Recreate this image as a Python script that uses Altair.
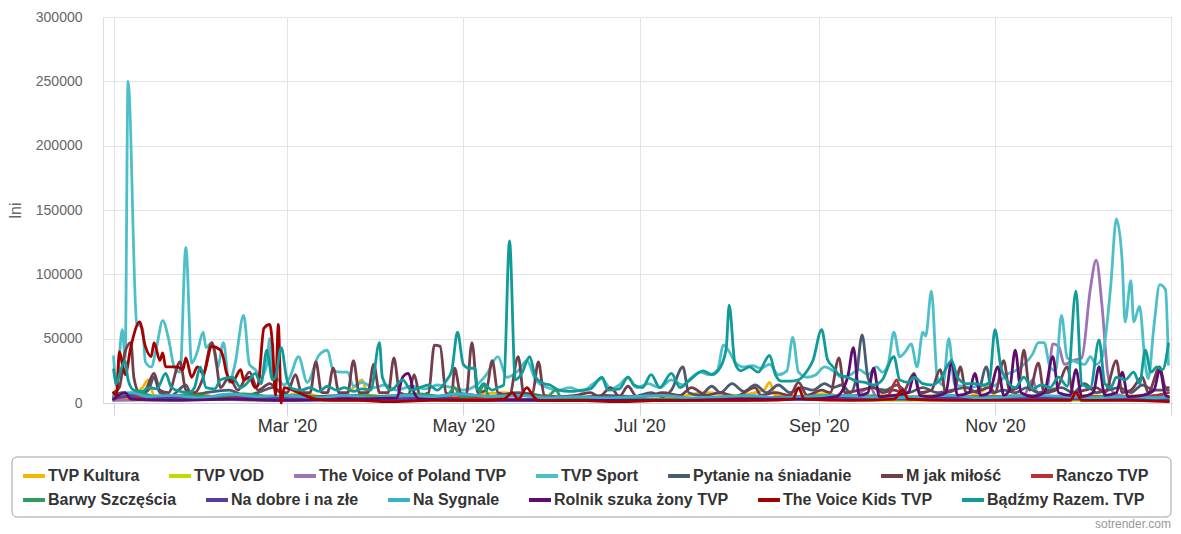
import altair as alt
import pandas as pd

SERIES = ["TVP Kultura", "TVP VOD", "The Voice of Poland TVP", "TVP Sport",
          "Pytanie na śniadanie", "M jak miłość", "Ranczo TVP",
          "Barwy Szczęścia", "Na dobre i na złe", "Na Sygnale",
          "Rolnik szuka żony TVP", "The Voice Kids TVP", "Bądźmy Razem. TVP"]
COLORS = ["#f5b400", "#c3d900", "#9e72b6", "#4dbfc8", "#4a5b70", "#733e4a",
          "#b8302f", "#2e9c5a", "#5b3aa0", "#3ab0d0", "#5e0c6e", "#a50000",
          "#109a98"]

# (day of 2020, interactions in thousands)
KULTURA = [(0,4),(5,6),(10,12),(12,18),(14,6),(20,5),(28,8),(35,5),(42,7),(50,6),(58,5),(65,8),(72,5),(80,7),(84,14),(86,18),(88,6),(95,5),(105,6),(115,4),(125,6),(135,8),(145,5),(155,4),(165,5),(175,4),(185,6),(195,5),(205,8),(215,6),(225,10),(227,16),(229,6),(235,5),(245,7),(255,5),(265,6),(275,5),(285,6),(295,5),(301,10),(303,15),(305,5),(315,6),(325,5),(335,6),(345,5),(355,6),(365,4)]
VOD = [(0,2),(30,3),(60,2),(90,3),(120,2),(150,3),(180,2),(210,3),(240,4),(248,8),(250,3),(270,2),(300,3),(330,2),(365,3)]
VOICE_POLAND = [(0,2),(30,3),(60,2),(90,2),(120,3),(150,2),(180,2),(210,3),(240,3),(255,4),(262,12),(264,4),(270,3),(290,4),(305,5),(315,6),(318,18),(320,6),(323,10),(325,46),(327,44),(329,30),(332,33),(335,35),(338,89),(340,111),(342,76),(344,23),(346,8),(350,5),(355,4),(360,6),(365,4)]
SPORT = [(0,36),(1,13),(3,57),(4,35),(5,250),(8,62),(10,58),(11,32),(13,28),(15,45),(17,64),(19,50),(21,28),(23,24),(25,121),(27,31),(29,40),(31,55),(32,43),(34,47),(36,28),(38,47),(40,16),(42,30),(45,68),(47,30),(49,26),(51,20),(53,30),(54,50),(55,22),(57,18),(59,14),(61,20),(64,36),(67,16),(71,37),(74,41),(76,25),(79,24),(81,24),(83,13),(86,16),(90,12),(94,14),(98,10),(103,13),(108,11),(112,14),(117,12),(121,10),(125,13),(129,22),(133,36),(136,20),(140,25),(143,33),(146,18),(150,12),(154,10),(158,12),(162,9),(166,15),(169,19),(172,11),(175,14),(178,20),(181,12),(185,15),(189,12),(193,18),(197,14),(200,20),(203,24),(206,22),(209,26),(211,45),(213,40),(215,32),(218,28),(221,29),(224,27),(227,30),(230,22),(233,25),(235,51),(237,24),(240,20),(243,22),(246,28),(249,25),(252,20),(255,22),(258,26),(261,22),(264,28),(266,24),(268,30),(270,55),(272,36),(274,40),(276,46),(278,28),(280,55),(281,52),(283,87),(285,20),(287,14),(289,50),(291,14),(294,13),(297,12),(300,14),(303,12),(306,15),(309,22),(312,25),(315,30),(318,38),(320,47),(322,47),(324,28),(326,25),(328,68),(330,35),(333,32),(336,30),(338,36),(340,30),(342,35),(345,90),(347,143),(349,110),(350,63),(352,95),(353,63),(355,75),(357,30),(358,19),(360,60),(362,92),(364,88),(365,30)]
PYTANIE = [(0,5),(3,8),(8,6),(12,10),(14,20),(16,8),(20,6),(25,14),(27,6),(32,8),(40,10),(45,6),(50,8),(55,12),(60,6),(70,5),(80,6),(90,5),(100,6),(110,5),(120,7),(130,5),(140,8),(150,5),(160,4),(170,6),(180,5),(186,8),(190,5),(193,10),(197,28),(199,8),(203,6),(207,13),(210,8),(214,15),(218,9),(222,14),(226,8),(230,14),(234,8),(238,12),(242,10),(246,15),(249,12),(252,14),(255,8),(257,20),(259,53),(261,20),(263,12),(267,10),(271,14),(275,8),(280,12),(285,8),(290,10),(295,12),(299,8),(302,28),(304,8),(308,10),(312,8),(316,12),(320,8),(324,10),(328,12),(332,8),(336,15),(340,8),(344,10),(348,12),(352,8),(356,14),(360,10),(365,10)]
M_JAK = [(0,8),(2,12),(4,40),(6,47),(7,20),(9,8),(11,10),(14,23),(16,10),(19,8),(23,32),(25,10),(28,8),(31,20),(34,47),(35,40),(37,12),(40,20),(43,10),(47,24),(50,10),(54,15),(58,8),(60,8),(63,22),(65,8),(68,8),(70,32),(72,8),(74,8),(76,27),(78,8),(81,8),(83,33),(85,8),(88,8),(90,30),(92,8),(95,8),(97,35),(99,8),(102,6),(104,22),(106,6),(109,8),(111,45),(113,44),(115,8),(117,6),(118,27),(120,8),(122,6),(124,47),(126,8),(129,10),(131,33),(133,8),(137,6),(140,36),(142,6),(145,8),(147,32),(149,6),(153,5),(160,6),(165,8),(168,5),(172,12),(175,5),(178,13),(181,5),(186,6),(190,8),(196,6),(200,12),(205,6),(210,8),(215,5),(222,12),(224,6),(229,8),(234,6),(237,16),(240,6),(245,10),(248,8),(251,35),(253,8),(258,10),(263,12),(266,8),(270,10),(273,8),(277,23),(279,8),(283,10),(286,26),(288,8),(291,10),(293,28),(295,8),(300,10),(303,12),(305,8),(308,33),(310,10),(313,12),(315,41),(317,10),(320,31),(322,8),(326,10),(330,28),(332,8),(336,10),(340,12),(343,8),(347,33),(349,8),(352,10),(356,20),(358,8),(362,28),(364,12),(365,12)]
RANCZO = [(0,4),(10,5),(20,3),(35,4),(50,5),(60,3),(80,4),(100,3),(120,4),(140,3),(160,2),(180,3),(200,3),(220,4),(240,5),(250,3),(260,4),(268,6),(271,18),(273,5),(280,4),(300,5),(320,4),(340,5),(355,4),(365,8)]
BARWY = [(0,6),(8,8),(15,5),(25,6),(35,5),(45,7),(55,5),(65,6),(75,4),(85,6),(95,5),(105,7),(115,5),(118,12),(120,5),(126,6),(128,14),(130,5),(140,6),(150,5),(153,10),(155,4),(170,3),(190,3),(210,3),(230,4),(250,6),(270,5),(290,4),(310,5),(330,4),(350,5),(365,4)]
NA_DOBRE = [(0,3),(5,6),(8,3),(20,4),(35,3),(50,4),(65,3),(80,4),(95,3),(110,4),(125,2),(140,3),(155,2),(170,2),(185,2),(200,2),(215,2),(230,3),(245,3),(260,4),(275,3),(290,4),(305,3),(320,4),(335,3),(350,3),(365,2)]
NA_SYGNALE = [(0,5),(6,8),(12,5),(20,6),(30,4),(40,7),(50,5),(60,6),(70,4),(80,6),(90,4),(100,6),(110,5),(120,7),(130,5),(140,6),(150,4),(160,5),(170,4),(180,5),(190,6),(200,4),(210,5),(220,6),(230,4),(240,5),(250,6),(260,5),(270,4),(280,5),(290,6),(300,4),(310,5),(320,6),(330,5),(340,4),(350,5),(360,4),(365,5)]
ROLNIK = [(0,3),(4,8),(6,3),(20,2),(40,3),(60,2),(80,3),(98,4),(100,20),(102,23),(104,8),(106,3),(130,2),(160,2),(190,2),(220,3),(240,3),(250,5),(254,20),(256,43),(258,6),(261,8),(263,27),(265,5),(270,6),(275,8),(277,22),(279,6),(283,5),(288,8),(290,33),(292,6),(296,8),(298,23),(300,6),(303,8),(306,28),(308,6),(310,10),(312,41),(314,8),(318,5),(322,8),(325,36),(327,8),(331,6),(333,26),(335,5),(339,8),(341,28),(343,6),(347,8),(349,24),(351,5),(356,6),(360,10),(362,26),(364,6),(365,5)]
VOICE_KIDS = [(0,8),(1,6),(2,40),(3,31),(4,22),(6,44),(9,63),(11,44),(13,36),(14,47),(16,33),(17,39),(18,28),(22,28),(24,26),(25,35),(27,20),(29,28),(31,23),(34,44),(37,41),(38,35),(39,24),(41,16),(44,26),(45,18),(47,20),(49,12),(50,14),(52,58),(54,61),(55,45),(56,6),(57,61),(58,0),(59,12),(62,10),(66,6),(70,3),(76,2),(85,2),(95,1),(110,2),(125,2),(135,3),(138,8),(140,3),(143,12),(145,6),(147,2),(160,2),(175,1),(190,2),(210,2),(225,2),(235,3),(237,12),(239,3),(255,2),(270,3),(273,10),(275,3),(290,2),(305,2),(320,2),(331,2),(333,8),(335,2),(350,2),(365,1)]
BADZMY = [(0,26),(1,15),(2,22),(4,33),(5,18),(7,10),(10,9),(12,12),(15,11),(18,23),(20,12),(23,9),(26,8),(28,12),(30,28),(32,12),(35,11),(37,18),(41,20),(44,12),(46,15),(49,23),(51,15),(53,41),(55,18),(56,20),(58,43),(60,18),(62,11),(65,10),(68,12),(71,9),(74,13),(77,10),(80,12),(83,9),(86,11),(89,10),(92,47),(93,20),(96,10),(100,18),(103,10),(106,12),(109,14),(112,10),(115,17),(117,25),(119,55),(121,30),(123,27),(125,27),(126,10),(128,15),(131,10),(133,12),(135,14),(137,126),(139,18),(141,22),(144,36),(146,20),(149,15),(151,14),(154,10),(158,9),(162,10),(165,11),(169,20),(171,10),(175,11),(178,20),(180,14),(183,12),(186,22),(189,12),(193,23),(196,12),(199,17),(204,25),(207,22),(210,28),(212,43),(213,76),(215,31),(217,25),(220,28),(223,24),(227,37),(229,22),(231,17),(234,17),(237,18),(240,25),(242,33),(245,57),(247,34),(249,28),(251,22),(254,20),(257,17),(260,16),(263,14),(266,18),(270,36),(272,18),(275,16),(277,20),(280,15),(283,14),(286,18),(290,33),(292,20),(295,15),(298,15),(301,14),(303,16),(305,57),(307,28),(309,18),(312,12),(315,20),(318,11),(321,14),(324,12),(327,20),(330,13),(333,87),(335,15),(338,12),(341,49),(343,15),(345,12),(347,20),(350,18),(353,24),(355,15),(357,41),(359,24),(361,28),(363,26),(365,46)]

SERIES_POINTS = [KULTURA, VOD, VOICE_POLAND, SPORT, PYTANIE, M_JAK, RANCZO,
                 BARWY, NA_DOBRE, NA_SYGNALE, ROLNIK, VOICE_KIDS, BADZMY]

ROW1 = SERIES[:7]
ROW2 = SERIES[7:]

START = pd.Timestamp("2020-01-01")
rows = []
for name, pts in zip(SERIES, SERIES_POINTS):
    for day, val in pts:
        rows.append({"series": name, "name": name,
                     "date": START + pd.Timedelta(days=day),
                     "value": val * 1000})
df = pd.DataFrame(rows)

FONT = "Liberation Sans"

x_ticks = [alt.DateTime(year=2020, month=m, date=1) for m in (1, 3, 5, 7, 9, 11)]
x_ticks.append(alt.DateTime(year=2021, month=1, date=1))

X = alt.X("date:T",
          scale=alt.Scale(domain=[alt.DateTime(year=2019, month=12, date=28, hours=8),
                                  alt.DateTime(year=2021, month=1, date=1, hours=14)]),
          axis=alt.Axis(values=x_ticks, format="%b '%y",
                        labelExpr="month(datum.value) == 0 ? '' : datum.label",
                        title=None, labelFont=FONT, labelFontSize=18,
                        labelColor="#333333", tickColor="#ccd6eb", tickSize=12,
                        domainColor="#ccd6eb", gridColor="#e3e3e3",
                        labelPadding=2, labelOverlap=False, labelFlush=False))
Y = alt.Y("value:Q",
          scale=alt.Scale(domain=[0, 300000], nice=False),
          axis=alt.Axis(values=[0, 50000, 100000, 150000, 200000, 250000, 300000],
                        format="d", title="lni", titleFont=FONT, titleFontSize=16,
                        titleColor="#666666", titleFontWeight="normal",
                        titlePadding=12, labelFont=FONT, labelFontSize=14,
                        labelColor="#666666", labelPadding=21, ticks=False,
                        domain=False, gridColor="#e3e3e3"))


def legend(y):
    return alt.Legend(title=None, orient="none", legendX=-82, legendY=y,
                      direction="horizontal", columns=7, columnPadding=21,
                      padding=0, symbolType="stroke", symbolSize=480,
                      symbolStrokeWidth=4, labelFont=FONT, labelFontSize=16,
                      labelFontWeight="bold", labelColor="#333333",
                      labelOffset=1, labelLimit=0)


line_style = dict(strokeWidth=2.8, interpolate="monotone",
                  strokeJoin="round", strokeCap="round")

lines1 = alt.Chart(df).transform_filter(
    alt.FieldOneOfPredicate(field="series", oneOf=ROW1)
).mark_line(**line_style).encode(
    x=X, y=Y,
    color=alt.Color("series:N", scale=alt.Scale(domain=ROW1, range=COLORS[:7]),
                    sort=ROW1, legend=legend(446)),
)

lines2 = alt.Chart(df).transform_filter(
    alt.FieldOneOfPredicate(field="name", oneOf=ROW2)
).mark_line(**line_style).encode(
    x=X, y=Y,
    stroke=alt.Stroke("name:N", scale=alt.Scale(domain=ROW2, range=COLORS[7:]),
                      sort=ROW2, legend=legend(470)),
)

frame = alt.Chart(pd.DataFrame({"f": [1]})).mark_rect(
    filled=False, stroke="#a0a0a0", strokeWidth=1, cornerRadius=5
).encode(x=alt.value(-91), x2=alt.value(1068), y=alt.value(440), y2=alt.value(500))

credit = alt.Chart(pd.DataFrame({"t": ["sotrender.com"]})).mark_text(
    align="right", baseline="alphabetic", fontSize=12, color="#999999", font=FONT
).encode(text="t:N", x=alt.value(1068), y=alt.value(511))

chart = alt.layer(lines1, lines2, frame, credit).resolve_scale(
    color="independent", stroke="independent"
).properties(
    width=1070, height=386,
    autosize=alt.AutoSizeParams(type="none"),
    padding={"left": 95, "top": 9, "right": 0, "bottom": 128},
).configure_view(stroke=None).configure(font=FONT)

chart.save("out.html", embed_options={"renderer": "svg", "actions": False})
